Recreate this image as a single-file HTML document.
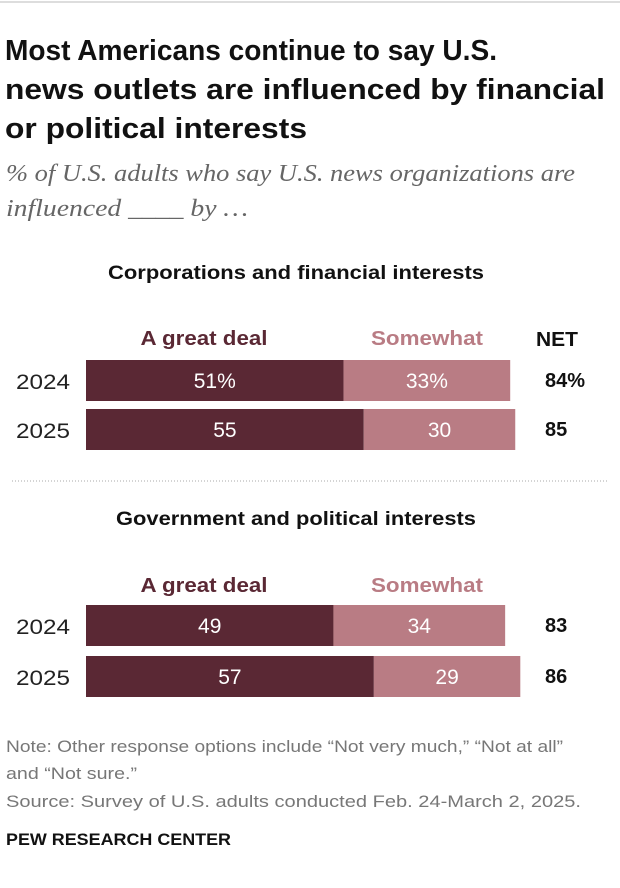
<!DOCTYPE html>
<html><head><meta charset="utf-8"><style>
body{margin:0;background:#fff;width:620px;height:888px;overflow:hidden}
svg{display:block;font-family:"Liberation Sans",sans-serif}
</style></head><body>
<svg width="620" height="888">
<line x1="0" y1="2" x2="620" y2="2" stroke="#bbb"/>
<g font-size="29" font-weight="bold" fill="#111">
<text x="5" y="60" textLength="492" lengthAdjust="spacingAndGlyphs">Most Americans continue to say U.S.</text>
<text x="5" y="99" textLength="600" lengthAdjust="spacingAndGlyphs">news outlets are influenced by financial</text>
<text x="5" y="138" textLength="302" lengthAdjust="spacingAndGlyphs">or political interests</text></g>
<g font-family="Liberation Serif,serif" font-style="italic" font-size="24" fill="#666">
<text x="6" y="181" textLength="569" lengthAdjust="spacingAndGlyphs">% of U.S. adults who say U.S. news organizations are</text>
<text x="6" y="216" textLength="242" lengthAdjust="spacingAndGlyphs">influenced ____ by …</text></g>
<line x1="12" y1="481" x2="608" y2="481" stroke="#aaa" stroke-dasharray="1,2"/>
<g font-size="17" fill="#777">
<text x="6" y="752" textLength="557" lengthAdjust="spacingAndGlyphs">Note: Other response options include “Not very much,” “Not at all”</text>
<text x="6" y="779" textLength="131" lengthAdjust="spacingAndGlyphs">and “Not sure.”</text>
<text x="6" y="807" textLength="575" lengthAdjust="spacingAndGlyphs">Source: Survey of U.S. adults conducted Feb. 24-March 2, 2025.</text></g>
<text x="6" y="845" font-size="17" font-weight="bold" fill="#111" textLength="225" lengthAdjust="spacingAndGlyphs">PEW RESEARCH CENTER</text>
<g id="charts"></g>
</svg>
<script>
const years=["2024","2025"];
const corpGreat=[51,55];
const corpSome=[33,30];
const corpNetLabels=["84%","85"];
const govGreat=[49,57];
const govSome=[34,29];
const govNetLabels=["83","86"];
const NS="http://www.w3.org/2000/svg";
const g=document.getElementById("charts");
const x0=86,k=5.05;
const xs=v=>v*k;
function t(x,y,s,o){const e=document.createElementNS(NS,"text");e.setAttribute("x",x);e.setAttribute("y",y);e.textContent=s;for(const a in o)e.setAttribute(a,o[a]);g.appendChild(e);return e;}
function panel(title,ty,tw,ly,rows,great,some,nets,net){
 let e=t(296,ty,title,{"font-size":19,"font-weight":"bold","text-anchor":"middle",fill:"#111",textLength:tw,lengthAdjust:"spacingAndGlyphs"});
 
 
 e=t(204,ly,"A great deal",{"font-size":20,"font-weight":"bold","text-anchor":"middle",fill:"#5a2834",textLength:127,lengthAdjust:"spacingAndGlyphs"});
 
 
 e=t(427,ly,"Somewhat",{"font-size":20,"font-weight":"bold","text-anchor":"middle",fill:"#b97c84",textLength:112,lengthAdjust:"spacingAndGlyphs"});
 
 
 if(net){e=t(557,ly+1,"NET",{"font-size":20,"font-weight":"bold","text-anchor":"middle",fill:"#111",textLength:42,lengthAdjust:"spacingAndGlyphs"});
 
 }
 years.forEach((y,i)=>{
  const by=rows[i],h=41;
  e=t(16,by+29,y,{"font-size":21,fill:"#222",textLength:54,lengthAdjust:"spacingAndGlyphs"});
  
  
  const w1=xs(great[i]),w2=xs(some[i]);
  let r=document.createElementNS(NS,"rect");
  r.setAttribute("x",x0);r.setAttribute("y",by);r.setAttribute("width",w1);r.setAttribute("height",h);r.setAttribute("fill","#5a2834");
  
  
  g.appendChild(r);
  r=document.createElementNS(NS,"rect");
  r.setAttribute("x",x0+w1);r.setAttribute("y",by);r.setAttribute("width",w2);r.setAttribute("height",h);r.setAttribute("fill","#b97c84");
  
  
  g.appendChild(r);
  const pct=(i==0&&net)?"%":"";
  e=t(x0+w1/2,by+28,great[i]+pct,{"font-size":21,"text-anchor":"middle",fill:"#fff"});
  
  
  e=t(x0+w1+w2/2,by+28,some[i]+pct,{"font-size":21,"text-anchor":"middle",fill:"#fff"});
  
  
  e=t(545,by+27,nets[i],{"font-size":20,"font-weight":"bold",fill:"#111"});
  
  
 });
}
panel("Corporations and financial interests",279,376,345,[360,409],corpGreat,corpSome,corpNetLabels,true);
panel("Government and political interests",525,360,592,[605,656],govGreat,govSome,govNetLabels,false);
</script>
</body></html>
